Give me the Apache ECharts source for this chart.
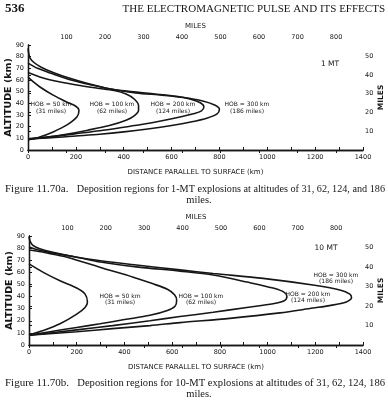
<!DOCTYPE html>
<html><head><meta charset="utf-8">
<script src="https://cdn.jsdelivr.net/npm/echarts/dist/echarts.min.js"></script>
<style>html,body{margin:0;padding:0;background:#fff}#c{width:388px;height:400px}</style>
</head><body><div id="c"></div>
<script>
// ---------- data ----------
const KM_PER_MILE = 1.609344;
const kmRange = [0, 1400];
const altRange = [0, 90];
const hobNames = ['HOB = 50 km', 'HOB = 100 km', 'HOB = 200 km', 'HOB = 300 km'];
const hobMiles = ['(31 miles)', '(62 miles)', '(124 miles)', '(186 miles)'];

// 1 MT deposition boundaries: [distance km, altitude km]
const mt1_hob50 = [[0,62.5],[25,58],[50,54],[105,47],[163,41],[200,37.5],[213,34],[205,28.5],[163,21.5],[105,15.5],[40,10.5],[0,8.7]];
const mt1_hob100 = [[0,66.5],[60,62],[130,58.5],[210,55.5],[290,53],[360,51],[410,48],[445,43.5],[462,38],[462,34],[445,29.5],[410,25.5],[340,21],[250,17],[160,13.5],[80,11],[0,9]];
const mt1_hob200 = [[0,74.5],[40,70],[100,65.5],[180,60],[260,56],[340,52.5],[430,50],[530,48],[620,46],[680,43.5],[720,40.5],[735,37],[725,33.5],[690,31],[630,28],[560,25],[480,22],[400,19.5],[300,16.5],[200,14],[100,11.5],[0,9.5]];
const mt1_hob300 = [[0,87],[3,83],[8,79],[25,75],[55,71],[105,66.5],[175,61.5],[250,57],[340,52.5],[450,49],[560,47],[650,45],[730,42],[780,38.5],[800,35],[790,31],[750,27.5],[680,24],[600,21],[500,18],[400,15.5],[300,13.5],[200,12],[100,10.5],[0,9.5]];

// 10 MT deposition boundaries
const mt10_hob50 = [[0,67],[60,60],[130,53],[200,47],[235,42],[245,35.5],[235,31],[200,25.5],[130,17.5],[60,12],[0,8.3]];
const mt10_hob100 = [[0,78.5],[50,77],[100,75],[160,72.5],[300,64],[437,56],[520,50.5],[580,46],[610,41.5],[619,37],[612,32],[580,28.5],[507,24.5],[400,21],[298,17.5],[200,14.5],[88,11],[0,8]];
const mt10_hob200 = [[0,81],[40,78.5],[100,76],[200,72.5],[300,68.5],[450,64.5],[633,61],[772,57.8],[913,52],[1023,47],[1070,43.5],[1081,40],[1070,36.5],[1023,34],[913,31],[772,27],[633,23.5],[507,20],[350,16],[200,12.5],[0,8]];
const mt10_hob300 = [[0,89.5],[4,86],[15,82.5],[45,79.5],[100,76.5],[200,72.5],[300,69.5],[450,66],[633,62],[772,59],[981,55],[1190,49.5],[1303,45.4],[1345,42],[1352,39],[1330,35.5],[1260,32.5],[1190,30.5],[1052,26.5],[842,22],[633,18.5],[507,16],[350,13.5],[200,11],[0,8]];

// ---------- chart ----------
const ink = '#161616';
const tickFont = {fontFamily:'DejaVu Sans', fontSize:6.5, color:ink};
const nameFont = {fontFamily:'DejaVu Sans', fontSize:7, color:ink};
const plain = v => String(Math.round(v));

function kmAxis(g){
  return {gridIndex:g, type:'value', min:kmRange[0], max:kmRange[1], interval:200, position:'bottom',
    name:'DISTANCE PARALLEL TO SURFACE (km)', nameLocation:'middle', nameGap:19, nameMoveOverlap:false, nameTextStyle:nameFont,
    axisLine:{lineStyle:{color:ink,width:1.3}}, axisTick:{inside:true,length:3,lineStyle:{color:ink,width:1}},
    minorTick:{show:true,splitNumber:2,length:3,lineStyle:{color:ink,width:1}},
    axisLabel:{...tickFont, margin:4, formatter:plain}, splitLine:{show:false}};
}
function mileXAxis(g){
  return {gridIndex:g, type:'value', min:0, max:kmRange[1]/KM_PER_MILE, interval:100, position:'top',
    name:'MILES', nameLocation:'middle', nameGap:15, nameMoveOverlap:false, nameTextStyle:nameFont,
    axisLine:{lineStyle:{color:ink,width:1.3}}, axisTick:{inside:true,length:3,lineStyle:{color:ink,width:1}},
    axisLabel:{...tickFont, margin:4, showMaxLabel:false, formatter:v=>v===0?'':plain(v)}, splitLine:{show:false}};
}
function altAxis(g){
  return {gridIndex:g, type:'value', min:altRange[0], max:altRange[1], interval:10, position:'left',
    name:'ALTITUDE (km)', nameLocation:'middle', nameGap:14, nameRotate:90, nameMoveOverlap:false,
    nameTextStyle:{fontFamily:'DejaVu Sans', fontSize:9.5, fontWeight:'bold', color:ink},
    axisLine:{lineStyle:{color:ink,width:1.3}}, axisTick:{inside:true,length:3,lineStyle:{color:ink,width:1}},
    axisLabel:{...tickFont, margin:4, formatter:plain}, splitLine:{show:false}};
}
function mileYAxis(g){
  return {gridIndex:g, type:'value', min:0, max:altRange[1]/KM_PER_MILE, interval:10, position:'right',
    name:'MILES', nameLocation:'middle', nameGap:14, nameRotate:90, nameMoveOverlap:false,
    nameTextStyle:{fontFamily:'DejaVu Sans', fontSize:7.5, fontWeight:'bold', color:ink},
    axisLine:{lineStyle:{color:ink,width:1.3}}, axisTick:{inside:false,length:3,lineStyle:{color:ink,width:1}},
    axisLabel:{...tickFont, margin:2, showMaxLabel:false, formatter:v=>v===0?'':plain(v)}, splitLine:{show:false}};
}
function curve(data, g){
  return {type:'line', xAxisIndex:g*2, yAxisIndex:g*2, data:data, smooth:0.3, showSymbol:false, symbol:'none',
    silent:true, animation:false, lineStyle:{color:ink, width:1.6}};
}
function txt(x,y,t,opts){
  return {type:'text', x:x, y:y, silent:true,
    style:Object.assign({text:t, fill:ink, fontFamily:'DejaVu Sans', fontSize:6, textAlign:'center', textVerticalAlign:'middle'}, opts||{})};
}

const chart = echarts.init(document.getElementById('c'), null, {renderer:'canvas'});
const serif = 'Liberation Serif';
const graphics = [
  txt(5,9,'536',{fontFamily:serif,fontSize:13,fontWeight:'bold',textAlign:'left'}),
  txt(385,9,'THE ELECTROMAGNETIC PULSE AND ITS EFFECTS',{fontFamily:serif,fontSize:11,textAlign:'right'}),
  // 1 MT labels
  txt(51,104,hobNames[0]), txt(51,111,hobMiles[0]),
  txt(112,104,hobNames[1]), txt(112,111,hobMiles[1]),
  txt(173,104,hobNames[2]), txt(173,111,hobMiles[2]),
  txt(247,104,hobNames[3]), txt(247,111,hobMiles[3]),
  txt(330,64,'1 MT',{fontSize:7.5}),
  // 10 MT labels
  txt(120,296,hobNames[0]), txt(120,302.5,hobMiles[0]),
  txt(201,296,hobNames[1]), txt(201,302.5,hobMiles[1]),
  txt(308,294,hobNames[2]), txt(308,300.5,hobMiles[2]),
  txt(336,275,hobNames[3]), txt(336,281.5,hobMiles[3]),
  txt(326,248,'10 MT',{fontSize:7.5}),
  // captions
  txt(5,189,'Figure 11.70a.',{fontFamily:serif,fontSize:11,textAlign:'left'}),
  txt(385,189,'Deposition regions for 1-MT explosions at altitudes of 31, 62, 124, and 186',{fontFamily:serif,fontSize:10.2,textAlign:'right'}),
  txt(199,200,'miles.',{fontFamily:serif,fontSize:10.5}),
  txt(5,383,'Figure 11.70b.',{fontFamily:serif,fontSize:11,textAlign:'left'}),
  txt(385,383,'Deposition regions for 10-MT explosions at altitudes of 31, 62, 124, 186',{fontFamily:serif,fontSize:10.6,textAlign:'right'}),
  txt(199,394,'miles.',{fontFamily:serif,fontSize:10.5})
];

chart.setOption({
  animation:false,
  backgroundColor:'#fff',
  grid:[{left:28,right:25,top:45,height:105,containLabel:false,outerBoundsMode:'none'},
        {left:29,right:25,top:236,height:109,containLabel:false,outerBoundsMode:'none'}],
  xAxis:[kmAxis(0), mileXAxis(0), kmAxis(1), mileXAxis(1)],
  yAxis:[altAxis(0), mileYAxis(0), altAxis(1), mileYAxis(1)],
  series:[
    curve(mt1_hob50,0), curve(mt1_hob100,0), curve(mt1_hob200,0), curve(mt1_hob300,0),
    curve(mt10_hob50,1), curve(mt10_hob100,1), curve(mt10_hob200,1), curve(mt10_hob300,1)
  ],
  graphic:graphics
});
</script></body></html>
